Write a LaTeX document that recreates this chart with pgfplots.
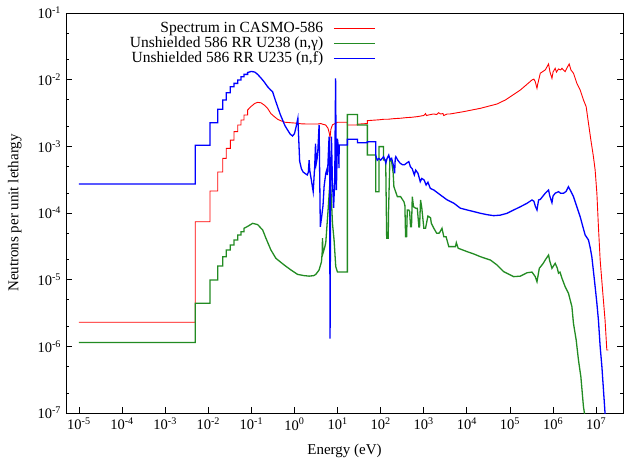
\documentclass[border=0pt]{standalone}
\usepackage{fontspec}
\setmainfont{Liberation Serif}
\usepackage{pgfplots}
\pgfplotsset{compat=1.18}
\definecolor{cred}{RGB}{255,0,0}
\definecolor{cgreen}{RGB}{34,139,34}
\definecolor{cblue}{RGB}{0,0,255}
\begin{document}
\fontsize{14.5}{17.4}\selectfont
\begin{tikzpicture}
\useasboundingbox (-66pt,-48pt) rectangle (558pt,413pt);
\begin{axis}[
  scale only axis, width=557pt, height=400pt,
  xmode=log, ymode=log, log basis x=10, log basis y=10,
  xmin=5e-6, xmax=4.2e7, ymin=1e-7, ymax=1e-1,
  axis line style={line width=0.9pt},
  tick style={black, line width=0.7pt},
  major tick length=6pt, minor tick length=3pt,
  xtick={1e-5,1e-4,1e-3,1e-2,1e-1,1,10,100,1e3,1e4,1e5,1e6,1e7},
  xticklabels={10\textsuperscript{-5},10\textsuperscript{-4},10\textsuperscript{-3},10\textsuperscript{-2},10\textsuperscript{-1},10\textsuperscript{0},10\textsuperscript{1},10\textsuperscript{2},10\textsuperscript{3},10\textsuperscript{4},10\textsuperscript{5},10\textsuperscript{6},10\textsuperscript{7}},
  ytick={1e-7,1e-6,1e-5,1e-4,1e-3,1e-2,1e-1},
  yticklabels={10\textsuperscript{-7},10\textsuperscript{-6},10\textsuperscript{-5},10\textsuperscript{-4},10\textsuperscript{-3},10\textsuperscript{-2},10\textsuperscript{-1}},
  xminorticks=false,
  minor ytick={2e-7,5e-7,2e-6,5e-6,2e-5,5e-5,2e-4,5e-4,2e-3,5e-3,2e-2,5e-2},
  xtick pos=bottom, ytick pos=both,
  tick align=inside,
  xlabel={Energy (eV)}, ylabel={Neutrons per unit lethargy},
  label style={font=\fontsize{15}{18}\selectfont},
  xlabel style={at={(axis description cs:0.5,-0.095)}, anchor=center},
  ylabel style={at={(axis description cs:-0.092,0.5)}, anchor=center},
  legend plot pos=right,
  legend cell align=right,
  legend image code/.code={\draw[#1] (0pt,0pt) -- (41pt,0pt);},
  legend style={at={(axis description cs:0.556,0.978)}, anchor=north east,
    font=\fontsize{15.5}{18}\selectfont,
    draw=none, fill=none, inner sep=0pt, row sep=1.5pt, column sep=10pt,
    nodes={inner sep=0pt, text height=10.5pt, text depth=3pt}},
]
\addplot[cred, line width=0.9pt] coordinates {
(1e-5,2.3e-6)(5e-3,2.3e-6)(5e-3,7.4e-5)(1.1e-2,7.4e-5)(1.1e-2,2.14e-4)(1.66e-2,2.14e-4)(1.66e-2,4.12e-4)(2.17e-2,4.12e-4)(2.17e-2,6.6e-4)(2.62e-2,6.6e-4)(2.62e-2,9.3e-4)(3.25e-2,9.3e-4)(3.25e-2,1.24e-3)(3.95e-2,1.24e-3)(3.95e-2,1.66e-3)(4.82e-2,1.66e-3)(4.82e-2,2.09e-3)(5.74e-2,2.09e-3)(5.74e-2,2.48e-3)(6.75e-2,2.48e-3)(6.75e-2,2.95e-3)(8.2e-2,2.95e-3)(8.2e-2,3.51e-3)
(0.1,4.0e-3)(0.12,4.4e-3)(0.14,4.57e-3)(0.167,4.5e-3)(0.2,4.15e-3)(0.238,3.72e-3)(0.284,3.1e-3)(0.339,2.8e-3)(0.406,2.55e-3)(0.484,2.42e-3)(0.6,2.3e-3)(0.826,2.26e-3)(1.18,2.22e-3)(1.41,2.18e-3)(2.0,2.16e-3)(3.43,2.16e-3)(4.08,2.2e-3)(4.5,2.15e-3)(5.3,2.09e-3)(6.0,1.87e-3)(6.4,1.6e-3)(6.7,1.35e-3)(7.0,1.8e-3)(7.62,2.1e-3)(9.08,2.22e-3)(9.95,2.3e-3)(16.9,2.3e-3)(16.9,2.09e-3)(28.9,2.09e-3)(28.9,2.15e-3)(49.2,2.2e-3)(49.2,2.43e-3)
(91,2.5e-3)(120,2.55e-3)(150,2.55e-3)(200,2.6e-3)(290,2.64e-3)(400,2.7e-3)(500,2.72e-3)(708,2.79e-3)(1000,2.9e-3)(1100,3.1e-3)(1150,2.9e-3)(1436,3.0e-3)(1714,3.06e-3)(2000,3.0e-3)(2200,3.2e-3)(2449,3.06e-3)(2800,3.1e-3)(2900,2.9e-3)(3500,3.06e-3)(4100,3.06e-3)(8300,3.31e-3)(2.07e4,3.72e-3)(5.03e4,4.32e-3)(7.83e4,4.96e-3)(1.02e5,5.56e-3)(1.74e5,7e-3)(2.27e5,8.1e-3)(3.25e5,9.9e-3)(3.6e5,1.02e-2)(3.87e5,9.3e-3)(4.24e5,7.43e-3)(4.4e5,8.5e-3)(5.06e5,1.25e-2)(6.6e5,1.4e-2)(7.87e5,1.72e-2)(8.5e5,1.3e-2)(9.44e5,1.05e-2)(1.0e6,1.3e-2)(1.12e6,1.48e-2)(1.2e6,1.3e-2)(1.34e6,1.45e-2)(1.5e6,1.4e-2)(1.61e6,1.48e-2)(1.91e6,1.32e-2)(2.1e6,1.5e-2)(2.37e6,1.72e-2)(2.6e6,1.4e-2)(2.98e6,1.25e-2)(3.57e6,8.83e-3)(4.26e6,7e-3)(5.08e6,4.96e-3)(5.87e6,3.94e-3)(6.64e6,2.22e-3)(7.54e6,1.25e-3)(8.65e6,7e-4)(9.48e6,4.42e-4)(1.04e7,1.98e-4)(1.13e7,6.24e-5)(1.24e7,1.97e-5)(1.43e7,6.25e-6)(1.61e7,2.48e-6)(1.77e7,8.81e-7)(1.93e7,8.81e-7)
};
\addlegendentry{Spectrum in CASMO-586}
\addplot[cgreen, line width=1.3pt] coordinates {
(1e-5,1.14e-6)(5e-3,1.14e-6)(5e-3,4.43e-6)(1.1e-2,4.43e-6)(1.1e-2,9.9e-6)(1.66e-2,9.9e-6)(1.66e-2,1.6e-5)(2.17e-2,1.6e-5)(2.17e-2,2.21e-5)(2.62e-2,2.21e-5)(2.62e-2,2.79e-5)(3.25e-2,2.79e-5)(3.25e-2,3.31e-5)(3.95e-2,3.31e-5)(3.95e-2,3.94e-5)(4.82e-2,3.94e-5)(4.82e-2,4.67e-5)(5.74e-2,4.67e-5)(5.74e-2,5.25e-5)(6.75e-2,5.25e-5)(6.75e-2,5.9e-5)
(8.2e-2,6.3e-5)(0.107,7e-5)(0.14,6.7e-5)(0.183,5.56e-5)(0.218,4.18e-5)(0.284,2.79e-5)(0.371,2.09e-5)(0.578,1.66e-5)(0.826,1.4e-5)(1.18,1.2e-5)(1.68,1.15e-5)(2.19,1.13e-5)(2.8,1.15e-5)(3.13,1.2e-5)(3.73,1.4e-5)(4.24,1.86e-5)(4.4,2.6e-5)(4.47,4.2e-5)(4.6,2.5e-5)(5.0,3e-5)(5.33,3.6e-5)(6.03,1.11e-4)(6.4,2e-4)(6.75,3.3e-4)(7.2,1.6e-4)(7.62,7e-5)(8.3,3.94e-5)(9.08,1.57e-5)(9.95,1.3e-5)(16.9,1.3e-5)
(16.9,3e-3)(28.9,3e-3)(28.9,2.09e-3)(49.2,2.09e-3)(49.2,7.4e-4)(76.6,7.4e-4)(76.6,2.09e-4)(91.4,2.09e-4)(91.4,9.9e-4)(116,9.9e-4)(116,6.24e-4)(131,6.24e-4)(131,6e-4)(138,4.2e-5)(150,4.2e-5)(152,9.8e-5)(164,6.6e-4)(180,5.9e-4)(195,4e-4)(203,2.48e-4)(244,1.76e-4)(290,1.76e-4)(346,1.48e-4)(365,1.3e-4)(379,4.4e-5)(400,4.4e-5)(415,1.11e-4)(450,1.11e-4)(470,1.05e-4)(494,6.24e-5)(520,6.24e-5)(542,1.76e-4)(580,1.24e-4)(650,1.18e-4)(708,1.18e-4)(771,6.2e-5)(800,6.2e-5)(843,1.57e-4)(900,1.2e-4)(929,9.8e-5)(1005,5.9e-5)(1100,5.9e-5)(1250,9e-5)(1436,8.5e-5)(1500,7e-5)(1714,5.9e-5)(2000,4.97e-5)(2300,5e-5)(2650,5.9e-5)(2918,4.42e-5)(3300,4.4e-5)(3811,3.13e-5)(5445,3.13e-5)(5700,3.59e-5)(6300,2.96e-5)
(1.02e4,2.63e-5)(1.45e4,2.43e-5)(2.07e4,2.21e-5)(3.52e4,1.97e-5)(5.03e4,1.66e-5)(7.15e4,1.32e-5)(1.22e5,1.11e-5)(1.74e5,1.13e-5)(2.49e5,1.27e-5)(3.25e5,1.3e-5)(3.87e5,1.11e-5)(4.24e5,9.33e-6)(4.8e5,1.48e-5)(5.93e5,1.76e-5)(6.6e5,1.98e-5)(7.87e5,2.34e-5)(8.4e5,1.9e-5)(9.44e5,1.48e-5)(1.12e6,1.76e-5)(1.25e6,1.5e-5)(1.34e6,1.25e-5)(1.45e6,1.3e-5)(1.61e6,1.05e-5)(1.91e6,7.85e-6)(2.28e6,6.25e-6)(2.74e6,3.94e-6)(2.98e6,2.2e-6)(3.44e6,1.25e-6)(3.89e6,6.24e-7)(4.42e6,3.51e-7)(5.08e6,1.24e-7)(5.36e6,9.9e-8)(5.6e6,7e-8)
};
\addlegendentry{Unshielded 586 RR U238 (n,γ)}
\addplot[cblue, line width=1.3pt] coordinates {
(1e-5,2.72e-4)(5e-3,2.72e-4)(5e-3,1.04e-3)(1.1e-2,1.04e-3)(1.1e-2,2.26e-3)(1.66e-2,2.26e-3)(1.66e-2,3.59e-3)(2.17e-2,3.59e-3)(2.17e-2,4.96e-3)(2.62e-2,4.96e-3)(2.62e-2,6.38e-3)(3.25e-2,6.38e-3)(3.25e-2,7.85e-3)(3.95e-2,7.85e-3)(3.95e-2,8.8e-3)(4.82e-2,8.8e-3)(4.82e-2,9.9e-3)(5.74e-2,9.9e-3)(5.74e-2,1.11e-2)(6.75e-2,1.11e-2)(6.75e-2,1.2e-2)(8.2e-2,1.2e-2)(8.2e-2,1.28e-2)
(0.1,1.33e-2)(0.12,1.3e-2)(0.14,1.2e-2)(0.167,1.06e-2)(0.2,9.2e-3)(0.238,7.85e-3)(0.28,7.0e-3)(0.311,6.6e-3)(0.35,5.2e-3)(0.406,3.94e-3)(0.47,3.0e-3)(0.531,2.48e-3)(0.6,2.05e-3)(0.692,1.76e-3)(0.8,1.52e-3)(0.904,1.43e-3)(1.0,1.55e-3)(1.094,1.97e-3)(1.2,2.64e-3)(1.25,1.4e-3)(1.32,6e-4)(1.45,4.6e-4)(1.6,4.1e-4)(1.98,3.72e-4)(2.1,4.1e-4)(2.19,6.2e-4)(2.26,4.4e-4)(2.45,3.2e-4)(2.72,2.09e-4)(2.95,5e-4)(3.08,1.1e-3)(3.2,5.5e-4)(3.35,6.5e-4)(3.5,9e-4)(3.73,2.1e-3)(3.98,6.2e-5)(4.3,9e-5)(4.6,1.3e-4)(4.87,2.48e-4)(5.33,3.94e-4)(5.6,4.4e-4)(5.83,3.72e-4)(6.36,1.4e-3)(6.55,5e-4)(6.7,1.3e-6)(6.9,2e-4)(7.22,1.4e-3)(7.6,3e-4)(8.1,1.2e-4)(8.6,3e-4)(9.0,1.05e-2)(9.4,2.2e-4)(9.95,1.3e-3)(10.3,1.05e-3)(10.5,1.05e-3)(10.8,4.7e-4)(10.9,1.05e-3)(16.9,1.05e-3)
(16.9,1.28e-3)(28.9,1.28e-3)(28.9,1.13e-3)(49.2,1.13e-3)(49.2,1.17e-3)(76.6,1.17e-3)(76.6,7.4e-4)(83,6.2e-4)(91,6.6e-4)(100,6.2e-4)(117,7e-4)(125,6.3e-4)(132,5.6e-4)(140,6.5e-4)(154,7.4e-4)(165,6.2e-4)(180,6.6e-4)(200,5e-4)(211,3.94e-4)(218,6.6e-4)(225,7e-4)(250,6.2e-4)(282,5.6e-4)(320,5.3e-4)(357,5.3e-4)(400,5.6e-4)(450,5.9e-4)(490,4.95e-4)(540,4.6e-4)(605,3.72e-4)(650,4.4e-4)(735,3.94e-4)(830,2.95e-4)(900,3.3e-4)(1020,3.13e-4)(1135,2.63e-4)(1250,2.9e-4)(1420,2.34e-4)(1720,2.21e-4)(2150,1.98e-4)(2450,1.86e-4)(3500,1.57e-4)(5000,1.4e-4)(7100,1.18e-4)
(1.02e4,1.11e-4)(1.45e4,1.05e-4)(2.07e4,9.9e-5)(2.95e4,9.44e-5)(4.2e4,9.12e-5)(6e4,9.3e-5)(8.57e4,9.9e-5)(1.22e5,1.11e-4)(1.74e5,1.24e-4)(2.49e5,1.4e-4)(3.25e5,1.57e-4)(3.6e5,1.5e-4)(3.87e5,1.27e-4)(4.24e5,1.11e-4)(4.62e5,1.57e-4)(5.06e5,1.6e-4)(6.6e5,1.98e-4)(7.87e5,2.21e-4)(8.4e5,1.8e-4)(9.44e5,1.43e-4)(1.0e6,1.8e-4)(1.12e6,1.98e-4)(1.34e6,2.09e-4)(1.5e6,1.98e-4)(1.75e6,1.98e-4)(2.0e6,2.1e-4)(2.28e6,2.48e-4)(2.6e6,2.1e-4)(2.98e6,1.76e-4)(3.57e6,1.24e-4)(4.26e6,8.8e-5)(5.0e6,6e-5)(5.56e6,4.68e-5)(6.64e6,3.94e-5)(7.3e6,3e-5)(7.94e6,2.21e-5)(8.7e6,1.3e-5)(9.48e6,7.85e-6)(1.04e7,4.43e-6)(1.13e7,2.48e-6)(1.24e7,9.9e-7)(1.36e7,4.95e-7)(1.48e7,2.21e-7)(1.61e7,9.9e-8)(1.7e7,6e-8)
};
\addlegendentry{Unshielded 586 RR U235 (n,f)}
\end{axis}
\end{tikzpicture}
\end{document}
